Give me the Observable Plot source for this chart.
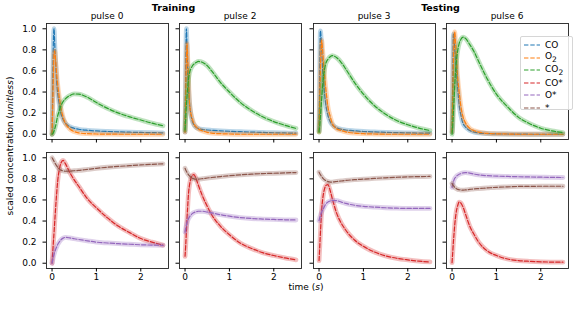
<!DOCTYPE html>
<html><head><meta charset="utf-8">
<script src="https://cdn.jsdelivr.net/npm/d3@7"></script>
<script src="https://cdn.jsdelivr.net/npm/@observablehq/plot@0.6"></script>
<style>
body{margin:0;background:#fff;}
#fig{position:relative;width:585px;height:315px;font-family:"DejaVu Sans",sans-serif;overflow:hidden;background:#fff;}
#fig .panel{position:absolute;}
#legend{position:absolute;left:520px;top:36px;width:53px;height:74px;background:rgba(255,255,255,0.85);border:1px solid #d6d6d6;border-radius:2px;box-sizing:border-box;font-size:9px;color:#000;}
#legend .row{position:absolute;left:3px;height:12px;display:flex;align-items:center;}
#legend .row span{margin-left:5px;white-space:nowrap;}
</style></head><body><div id="fig"></div>
<script>
// ---------- data ----------
const time = [0, 0.015, 0.03, 0.045, 0.06, 0.08, 0.1, 0.13, 0.16, 0.2, 0.25, 0.3, 0.4, 0.5, 0.6, 0.8, 1.0, 1.25, 1.5, 1.75, 2.0, 2.25, 2.5];
const speciesNames = ["CO", "O2", "CO2", "CO*", "O*", "*"];
const speciesLabels = ["CO", "O<sub>2</sub>", "CO<sub>2</sub>", "CO*", "O*", "*"];
const speciesColors = ["#1f77b4", "#ff7f0e", "#2ca02c", "#d62728", "#9467bd", "#8c564b"];
const pulseTitles = ["pulse 0", "pulse 2", "pulse 3", "pulse 6"];
const groupTitles = ["Training", "Testing"];
const xTicks = [0, 1, 2];
const yTicks = [0, 0.2, 0.4, 0.6, 0.8, 1.0];

// pulse 0
const p0_CO  = [0, 0.45, 0.88, 1.0, 0.86, 0.68, 0.52, 0.38, 0.29, 0.2, 0.14, 0.105, 0.072, 0.056, 0.047, 0.037, 0.031, 0.026, 0.022, 0.019, 0.017, 0.015, 0.013];
const p0_O2  = [0, 0.25, 0.55, 0.76, 0.79, 0.7, 0.59, 0.46, 0.36, 0.25, 0.16, 0.105, 0.05, 0.025, 0.013, 0.005, 0.002, 0.001, 0, 0, 0, 0, 0];
const p0_CO2 = [0, 0.005, 0.015, 0.03, 0.05, 0.08, 0.12, 0.18, 0.22, 0.27, 0.31, 0.335, 0.367, 0.382, 0.38, 0.35, 0.30, 0.245, 0.2, 0.165, 0.135, 0.105, 0.08];
const p0_COs = [0, 0.1, 0.2, 0.29, 0.39, 0.52, 0.64, 0.79, 0.88, 0.95, 0.975, 0.945, 0.86, 0.79, 0.73, 0.61, 0.525, 0.43, 0.35, 0.29, 0.234, 0.2, 0.172];
const p0_Os  = [0, 0.03, 0.06, 0.085, 0.105, 0.13, 0.15, 0.18, 0.2, 0.222, 0.238, 0.245, 0.24, 0.232, 0.225, 0.212, 0.2, 0.192, 0.185, 0.18, 0.175, 0.172, 0.17];
const p0_s   = [1.0, 0.99, 0.978, 0.966, 0.955, 0.94, 0.927, 0.908, 0.895, 0.883, 0.875, 0.872, 0.873, 0.877, 0.88, 0.89, 0.9, 0.91, 0.918, 0.925, 0.932, 0.938, 0.943];
// pulse 2
const p2_CO  = [0.02, 0.6, 1.0, 0.82, 0.6, 0.42, 0.3, 0.19, 0.13, 0.09, 0.065, 0.055, 0.045, 0.04, 0.037, 0.032, 0.028, 0.024, 0.02, 0.017, 0.014, 0.012, 0.01];
const p2_O2  = [0.02, 0.35, 0.7, 0.86, 0.72, 0.5, 0.3, 0.2, 0.15, 0.1, 0.07, 0.05, 0.03, 0.018, 0.01, 0.005, 0.002, 0, 0, 0, 0, 0, 0];
const p2_CO2 = [0.04, 0.15, 0.27, 0.36, 0.44, 0.53, 0.58, 0.62, 0.645, 0.665, 0.68, 0.69, 0.68, 0.65, 0.6, 0.49, 0.40, 0.30, 0.225, 0.165, 0.12, 0.085, 0.055];
const p2_COs = [0.066, 0.17, 0.3, 0.43, 0.54, 0.67, 0.74, 0.8, 0.83, 0.84, 0.8, 0.74, 0.63, 0.54, 0.46, 0.35, 0.27, 0.19, 0.14, 0.1, 0.073, 0.05, 0.032];
const p2_Os  = [0.295, 0.33, 0.36, 0.385, 0.405, 0.425, 0.44, 0.455, 0.47, 0.48, 0.488, 0.493, 0.493, 0.485, 0.478, 0.46, 0.446, 0.433, 0.424, 0.419, 0.415, 0.412, 0.41];
const p2_s   = [0.9, 0.885, 0.872, 0.86, 0.85, 0.838, 0.828, 0.815, 0.807, 0.8, 0.798, 0.798, 0.802, 0.808, 0.813, 0.822, 0.83, 0.838, 0.845, 0.85, 0.853, 0.857, 0.86];
// pulse 3
const p3_CO  = [0.03, 0.55, 0.98, 0.92, 0.8, 0.62, 0.5, 0.36, 0.26, 0.18, 0.12, 0.09, 0.06, 0.047, 0.04, 0.032, 0.026, 0.022, 0.018, 0.015, 0.013, 0.011, 0.01];
const p3_O2  = [0.02, 0.3, 0.6, 0.8, 0.89, 0.8, 0.68, 0.52, 0.4, 0.26, 0.17, 0.1, 0.05, 0.035, 0.022, 0.01, 0.005, 0.002, 0, 0, 0, 0, 0];
const p3_CO2 = [0.02, 0.08, 0.16, 0.25, 0.34, 0.46, 0.55, 0.63, 0.68, 0.71, 0.735, 0.745, 0.725, 0.68, 0.62, 0.49, 0.38, 0.27, 0.19, 0.13, 0.09, 0.058, 0.035];
const p3_COs = [0.025, 0.15, 0.28, 0.4, 0.51, 0.6, 0.66, 0.715, 0.74, 0.745, 0.69, 0.61, 0.47, 0.38, 0.315, 0.22, 0.16, 0.106, 0.07, 0.047, 0.032, 0.02, 0.012];
const p3_Os  = [0.405, 0.43, 0.45, 0.47, 0.485, 0.505, 0.52, 0.545, 0.565, 0.58, 0.59, 0.595, 0.593, 0.58, 0.567, 0.55, 0.54, 0.532, 0.526, 0.522, 0.52, 0.52, 0.52];
const p3_s   = [0.864, 0.85, 0.84, 0.83, 0.82, 0.81, 0.8, 0.79, 0.782, 0.775, 0.77, 0.77, 0.775, 0.78, 0.785, 0.792, 0.797, 0.804, 0.81, 0.815, 0.819, 0.821, 0.823];
// pulse 6
const p6_CO  = [0.02, 0.5, 0.95, 0.92, 0.8, 0.7, 0.59, 0.42, 0.28, 0.18, 0.1, 0.07, 0.035, 0.02, 0.012, 0.006, 0.003, 0.002, 0.001, 0, 0, 0, 0];
const p6_O2  = [0.02, 0.3, 0.65, 0.88, 0.97, 0.85, 0.7, 0.52, 0.4, 0.26, 0.16, 0.11, 0.055, 0.033, 0.02, 0.008, 0.004, 0.002, 0, 0, 0, 0, 0];
const p6_CO2 = [0, 0.08, 0.2, 0.33, 0.46, 0.6, 0.7, 0.8, 0.86, 0.9, 0.92, 0.91, 0.85, 0.78, 0.69, 0.52, 0.38, 0.26, 0.16, 0.1, 0.057, 0.032, 0.016];
const p6_COs = [0.005, 0.1, 0.2, 0.28, 0.36, 0.44, 0.5, 0.55, 0.58, 0.57, 0.53, 0.47, 0.35, 0.27, 0.2, 0.115, 0.073, 0.04, 0.025, 0.018, 0.013, 0.011, 0.01];
const p6_Os  = [0.72, 0.745, 0.77, 0.79, 0.805, 0.815, 0.825, 0.835, 0.843, 0.85, 0.857, 0.86, 0.855, 0.845, 0.838, 0.83, 0.826, 0.823, 0.82, 0.818, 0.816, 0.814, 0.813];
const p6_s   = [0.756, 0.745, 0.735, 0.728, 0.72, 0.713, 0.707, 0.7, 0.697, 0.694, 0.693, 0.695, 0.7, 0.705, 0.708, 0.714, 0.72, 0.724, 0.728, 0.729, 0.73, 0.73, 0.73];

const pulseSeries = [
  [p0_CO, p0_O2, p0_CO2, p0_COs, p0_Os, p0_s],
  [p2_CO, p2_O2, p2_CO2, p2_COs, p2_Os, p2_s],
  [p3_CO, p3_O2, p3_CO2, p3_COs, p3_Os, p3_s],
  [p6_CO, p6_O2, p6_CO2, p6_COs, p6_Os, p6_s]
];

// ---------- layout ----------
const panelLefts = [46, 179, 313, 446];
const panelTops = [23, 152];
const panelW = 122, panelH = 116;
const ML = 40, MR = 4, MT = 4, MB = 16;
const fig = document.getElementById("fig");
const font = '"DejaVu Sans", sans-serif';

function makePanel(col, row) {
  const marks = [];
  const idx = row === 0 ? [0, 1, 2] : [3, 4, 5];
  for (const k of idx) {
    const vals = pulseSeries[col][k];
    const d = time.map((t, i) => ({t, v: vals[i]}));
    marks.push(Plot.line(d, {x: "t", y: "v", stroke: speciesColors[k], strokeWidth: 4.8, strokeOpacity: 0.3, curve: "monotone-x"}));
    marks.push(Plot.line(d, {x: "t", y: "v", stroke: speciesColors[k], strokeWidth: 1.2, strokeDasharray: "4.4,1.9", curve: "monotone-x"}));
  }
  marks.push(Plot.frame({stroke: "#222", strokeWidth: 0.9}));
  marks.push(Plot.axisX({ticks: xTicks, tickSize: 3.5, tickPadding: 1.5, label: null,
    tickFormat: row === 1 ? (d => String(d)) : (() => "")}));
  marks.push(Plot.axisY({ticks: yTicks, tickSize: 3.5, tickPadding: 6.5, label: null,
    tickFormat: col === 0 ? (d => d.toFixed(1)) : (() => "")}));
  const svg = Plot.plot({
    width: panelW + ML + MR, height: panelH + MT + MB,
    marginLeft: ML, marginRight: MR, marginTop: MT, marginBottom: MB,
    x: {domain: [-0.125, 2.625], label: null},
    y: {domain: [-0.05, 1.05], label: null},
    style: {fontFamily: font, fontSize: "9px", background: "transparent", color: "#000", overflow: "visible"},
    marks
  });
  svg.classList.add("panel");
  svg.style.left = (panelLefts[col] - ML) + "px";
  svg.style.top = (panelTops[row] - MT) + "px";
  fig.appendChild(svg);
}
for (let r = 0; r < 2; r++) for (let c = 0; c < 4; c++) makePanel(c, r);

// ---------- titles & labels ----------
const ov = d3.select(fig).append("svg").attr("width", 585).attr("height", 315)
  .style("position", "absolute").style("left", 0).style("top", 0)
  .style("font-family", font).style("pointer-events", "none");
pulseTitles.forEach((t, c) => {
  ov.append("text").attr("x", panelLefts[c] + panelW / 2).attr("y", 19).attr("text-anchor", "middle")
    .attr("font-size", 9).text(t);
});
groupTitles.forEach((t, g) => {
  const cx = (panelLefts[2 * g] + panelLefts[2 * g + 1] + panelW) / 2;
  ov.append("text").attr("x", cx).attr("y", 10.5).attr("text-anchor", "middle")
    .attr("font-size", 9.5).attr("font-weight", "bold").text(t);
});
const xl = ov.append("text").attr("x", 306).attr("y", 290).attr("text-anchor", "middle").attr("font-size", 9);
xl.append("tspan").text("time (");
xl.append("tspan").attr("font-style", "italic").text("s");
xl.append("tspan").text(")");
const yl = ov.append("text").attr("transform", "translate(13,146) rotate(-90)").attr("text-anchor", "middle").attr("font-size", 9);
yl.append("tspan").text("scaled concentration (");
yl.append("tspan").attr("font-style", "italic").text("unitless");
yl.append("tspan").text(")");

// ---------- legend ----------
const lg = document.createElement("div");
lg.id = "legend";
speciesLabels.forEach((lab, k) => {
  const row = document.createElement("div");
  row.className = "row";
  row.style.top = (2 + k * 12.5) + "px";
  row.innerHTML = `<svg width="16" height="4"><line x1="0" y1="2" x2="16" y2="2" stroke="${speciesColors[k]}" stroke-width="1.2" stroke-dasharray="4.4,1.9"/></svg><span>${lab}</span>`;
  lg.appendChild(row);
});
fig.appendChild(lg);
</script></body></html>
